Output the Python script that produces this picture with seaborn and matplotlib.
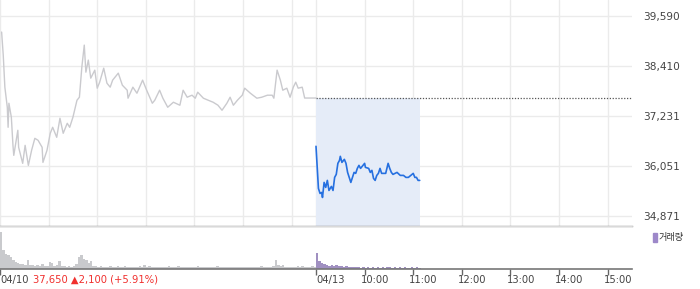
import numpy as np
import pandas as pd
import matplotlib
matplotlib.use("Agg")
import matplotlib.pyplot as plt
import seaborn as sns

# ---------------- data ----------------
# minutes since 04/10 09:00 (04/13 09:00 = 390)
d1_min = [2, 4, 6, 9, 10, 11, 14, 16, 17, 20, 22, 23, 28, 31, 35, 39, 43, 47, 52, 53,
          58, 62, 65, 70, 74, 78, 83, 86, 90, 95, 98, 101, 104, 106, 109, 112, 117, 120,
          123, 128, 132, 136, 139, 146, 151, 157, 158, 164, 169, 176, 181, 188, 191, 197,
          201, 207, 214, 222, 226, 231, 237, 241, 244, 251, 257, 263, 269, 274, 280, 284,
          288, 293, 299, 302, 309, 317, 323, 330, 336, 338, 342, 346, 349, 354, 358, 362,
          365, 368, 373, 376, 390]
d1_price = [39211, 38665, 37907, 37432, 36958, 37527, 37195, 36531, 36294, 36650, 36887,
            36484, 36105, 36531, 36057, 36413, 36697, 36650, 36484, 36128, 36413, 36816,
            36958, 36721, 37172, 36816, 37053, 36958, 37195, 37598, 37669, 38381, 38902,
            38262, 38547, 38120, 38310, 37883, 38025, 38357, 38001, 37907, 38073, 38239,
            37954, 37835, 37646, 37907, 37764, 38073, 37835, 37527, 37598, 37835, 37646,
            37432, 37551, 37480, 37835, 37669, 37717, 37646, 37788, 37646, 37598, 37551,
            37480, 37361, 37527, 37669, 37480, 37598, 37717, 37883, 37764, 37646, 37669,
            37717, 37717, 37646, 38310, 38073, 37835, 37883, 37669, 37907, 38025, 37883,
            37907, 37650, 37650]

d2_min = [390, 393, 395, 397, 398, 400, 402, 404, 406, 409, 411, 413, 415, 417, 419, 420,
          422, 425, 427, 429, 431, 433, 435, 437, 439, 441, 443, 445, 448, 450, 451, 455,
          457, 459, 461, 463, 465, 467, 469, 471, 473, 476, 479, 481, 483, 485, 490, 494,
          498, 501, 504, 507, 510, 512, 514, 516, 518]
d2_price = [36508, 35512, 35393, 35417, 35298, 35654, 35536, 35702, 35464, 35559, 35464,
            35773, 35844, 36105, 36176, 36271, 36128, 36199, 36105, 35891, 35773, 35654,
            35773, 35891, 35868, 35986, 36057, 35986, 36057, 36105, 36010, 35986, 35891,
            35939, 35749, 35702, 35820, 35868, 35986, 35868, 35868, 35868, 36105, 35986,
            35891, 35844, 35891, 35820, 35820, 35773, 35773, 35820, 35868, 35773, 35773,
            35702, 35702]

prev_close = 37650

# volume, 3-minute bins
vol_d1 = [37, 19, 15, 14, 12, 9, 7, 6, 5, 5, 4, 9, 4, 4, 3, 4, 3, 5, 3, 3,
          7, 6, 3, 4, 8, 3, 3, 2, 3, 2, 3, 5, 12, 14, 10, 9, 6, 8, 3, 3,
          2, 3, 2, 2, 2, 3, 2, 2, 3, 2, 2, 3, 2, 2, 2, 2, 2, 3, 2, 4,
          2, 3, 2, 2, 2, 2, 2, 2, 2, 3, 2, 2, 2, 3, 2, 2, 2, 2, 2, 2,
          2, 3, 2, 2, 2, 2, 2, 2, 2, 3, 2, 2, 2, 2, 2, 2, 2, 2, 2, 2,
          2, 2, 2, 2, 2, 2, 2, 3, 2, 2, 2, 2, 3, 9, 4, 3, 4, 2, 2, 2,
          2, 2, 3, 2, 3, 2, 2, 2, 3, 2]
vol_d2 = [16, 8, 6, 5, 4, 3, 4, 3, 4, 3, 3, 2, 3, 2, 2, 2, 2, 2, 1, 2,
          1, 2, 1, 2, 1, 2, 1, 2, 1, 2, 2, 1, 2, 1, 2, 1, 2, 1, 1, 2,
          1, 2, 1]
vol_bin = 3  # minutes per volume bar

y_ticks = [34871, 36051, 37231, 38410, 39590]
y_labels = ["34,871", "36,051", "37,231", "38,410", "39,590"]
x_ticks = [0, 390, 450, 510, 570, 630, 690, 750]
x_labels = ["04/10", "04/13", "10:00", "11:00", "12:00", "13:00", "14:00", "15:00"]
change_text = "37,650 \u25B22,100 (+5.91%)"
legend_label = "거래량"

# ---------------- style ----------------
sns.set_theme(style="white")
plt.rcParams['font.family'] = ['DejaVu Sans', 'Noto Sans CJK KR']

W, H = 700, 289
fig = plt.figure(figsize=(7, 2.89), dpi=100)

ax_left, ax_right = 0, 632
main_top, main_bot = 0, 225.5
vol_top, vol_bot = 226.5, 268.5

ax = fig.add_axes([ax_left / W, 1 - main_bot / H, (ax_right - ax_left) / W, (main_bot - main_top) / H])
axv = fig.add_axes([ax_left / W, 1 - vol_bot / H, (ax_right - ax_left) / W, (vol_bot - vol_top) / H])

grid_c = "#ebebeb"
# main chart
ax.set_xlim(0, 780)
ax.set_ylim(34635, 39969)
for yv in y_ticks:
    ax.axhline(yv, color=grid_c, lw=1, zorder=0)
for xv in list(range(0, 390, 60)) + [390, 450, 510, 570, 630, 690, 750]:
    ax.axvline(xv, color=grid_c, lw=1, zorder=0)

ax.fill_between(d2_min, prev_close, ax.get_ylim()[0], color="#e5ecf8", lw=0, zorder=1)
ax.plot([390, 780], [prev_close, prev_close], color="#555555", lw=0.9,
        linestyle=(0, (1, 1.3)), zorder=2)

df1 = pd.DataFrame({"t": d1_min, "p": d1_price})
df2 = pd.DataFrame({"t": d2_min, "p": d2_price})
sns.lineplot(data=df1, x="t", y="p", ax=ax, color="#cacace", lw=1.0, zorder=3)
sns.lineplot(data=df2, x="t", y="p", ax=ax, color="#2670e0", lw=1.2, zorder=4)

ax.set_xlim(0, 780)
ax.set_ylim(34635, 39969)
ax.set_yticks(y_ticks)
ax.set_yticklabels(y_labels)
ax.yaxis.tick_right()
ax.tick_params(axis="y", length=0, pad=8, labelsize=7.6, labelcolor="#444444")
ax.set_xticks([])
ax.set_xlabel("")
ax.set_ylabel("")
for s in ["top", "left", "right"]:
    ax.spines[s].set_visible(False)
ax.spines["bottom"].set_color("#8a8a8a")
ax.spines["bottom"].set_linewidth(1.0)

# volume
t1 = np.arange(len(vol_d1)) * vol_bin + vol_bin / 2
t2 = 390 + np.arange(len(vol_d2)) * vol_bin + vol_bin / 2
vdf = pd.DataFrame({
    "t": np.concatenate([t1, t2]),
    "v": vol_d1 + vol_d2,
    "day": ["d1"] * len(vol_d1) + ["d2"] * len(vol_d2),
})
sns.barplot(data=vdf, x="t", y="v", hue="day", native_scale=True, width=1.0,
            palette={"d1": "#c8cace", "d2": "#9d88c9"}, dodge=False,
            errorbar=None, linewidth=0, ax=axv, legend=False)
axv.set_xlim(0, 780)
axv.set_ylim(0, 42)
axv.set_yticks([])
axv.set_ylabel("")
axv.set_xlabel("")
for s in ["left", "right"]:
    axv.spines[s].set_visible(False)
axv.spines["top"].set_color("#e6e6e6")
axv.spines["bottom"].set_color("#777777")
axv.spines["bottom"].set_linewidth(1.2)
axv.set_xticks(x_ticks)
axv.set_xticklabels([])
axv.tick_params(axis="x", bottom=True, length=4, width=1, color="#666666", direction="out")

# x labels
for xv, lab in zip(x_ticks, x_labels):
    off = 0 if "/" in lab else -4
    axv.annotate(lab, xy=(xv, 0), xycoords=("data", "axes fraction"),
                 xytext=(off, -11.5), textcoords="offset pixels",
                 ha="left", va="center", fontsize=7.2, color="#444444")
# change text after first date
axv.annotate(change_text, xy=(0, 0), xycoords=("data", "axes fraction"),
             xytext=(33, -11.5), textcoords="offset pixels",
             ha="left", va="center", fontsize=7.2, color="#f0302e")

# legend
fig.patches.append(plt.Rectangle((653 / W, 1 - 242 / H), 3.5 / W, 9 / H,
                                 transform=fig.transFigure, color="#9d88c9"))
fig.text(658.5 / W, 1 - 237.5 / H, legend_label, ha="left", va="center",
         fontsize=6.6, color="#333333", family=["Noto Sans CJK KR", "DejaVu Sans"])

fig.savefig("out.png", dpi=100)
